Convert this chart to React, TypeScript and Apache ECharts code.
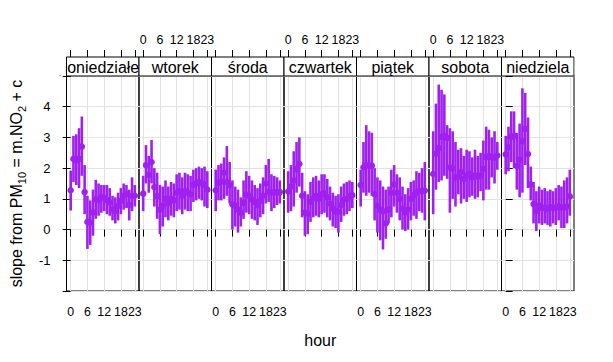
import React, { useEffect, useRef } from "react";
import * as echarts from "echarts";

const days = ["poniedziałek", "wtorek", "środa", "czwartek", "piątek", "sobota", "niedziela"];
const hours = [0, 1, 2, 3, 4, 5, 6, 7, 8, 9, 10, 11, 12, 13, 14, 15, 16, 17, 18, 19, 20, 21, 22, 23];
const xTicks = [0, 6, 12, 18, 23];
const yTicks = [-2, -1, 0, 1, 2, 3, 4, 5];
const yLabels = [-1, 0, 1, 2, 3, 4];

const slopeMon = [1.28, 2.3, 2.25, 2.3, 2.7, 1.22, 0.25, 0.23, 0.56, 0.99, 0.96, 1.05, 1.03, 0.96, 0.88, 0.66, 0.61, 0.77, 0.94, 1.1, 1.16, 0.81, 1.1, 1.1];
const lowerMon = [0.62, 1.55, 1.45, 1.35, 1.75, 0.5, -0.63, -0.5, -0.2, 0.35, 0.45, 0.55, 0.6, 0.5, 0.45, 0.3, 0.2, 0.3, 0.5, 0.65, 0.7, 0.3, 0.6, 0.75];
const upperMon = [1.92, 3.05, 3.1, 3.3, 3.68, 2.1, 1.1, 0.95, 1.3, 1.62, 1.5, 1.45, 1.45, 1.45, 1.35, 1.1, 1.05, 1.2, 1.35, 1.5, 1.45, 1.3, 1.7, 1.45];

const slopeTue = [1.17, 2.1, 1.78, 2.2, 1.38, 1.09, 0.65, 0.78, 1.0, 0.85, 1.0, 0.95, 1.2, 1.25, 1.1, 1.25, 1.2, 1.15, 1.45, 1.5, 1.55, 1.5, 1.45, 1.3];
const lowerTue = [0.6, 1.5, 1.2, 1.5, 0.75, 0.35, -0.15, 0.1, 0.4, 0.3, 0.45, 0.4, 0.6, 0.65, 0.5, 0.65, 0.6, 0.6, 0.9, 0.95, 1.0, 0.95, 0.75, 0.7];
const upperTue = [1.75, 2.75, 2.4, 2.92, 2.0, 1.85, 1.45, 1.4, 1.6, 1.4, 1.55, 1.5, 1.8, 1.85, 1.7, 1.85, 1.8, 1.75, 1.95, 2.0, 2.05, 2.0, 2.05, 1.9];

const slopeWed = [1.28, 1.52, 1.56, 1.85, 1.55, 1.45, 0.82, 0.78, 0.65, 0.55, 0.87, 1.14, 1.1, 0.98, 0.9, 0.8, 0.93, 1.1, 1.5, 1.22, 1.2, 1.22, 1.2, 1.22];
const lowerWed = [0.6, 0.95, 0.95, 1.0, 1.1, 0.85, 0.0, 0.1, -0.1, 0.1, 0.35, 0.55, 0.5, 0.35, 0.3, 0.15, 0.4, 0.5, 0.85, 0.9, 0.6, 0.7, 0.8, 0.85];
const upperWed = [1.95, 2.1, 2.15, 2.35, 2.72, 2.2, 1.6, 1.4, 1.3, 1.05, 1.6, 1.9, 1.75, 1.6, 1.45, 1.35, 1.5, 1.7, 2.1, 2.3, 1.8, 1.75, 1.7, 1.6];

const slopeThu = [1.24, 1.4, 1.6, 1.97, 2.14, 1.1, 0.55, 0.52, 0.9, 1.02, 1.1, 1.0, 1.15, 1.18, 1.05, 0.85, 0.68, 0.6, 0.58, 0.8, 0.98, 1.0, 1.08, 1.12];
const lowerThu = [0.55, 0.6, 0.75, 1.2, 1.4, 0.4, -0.2, -0.15, 0.25, 0.4, 0.45, 0.4, 0.5, 0.55, 0.4, 0.3, 0.1, 0.05, -0.1, 0.25, 0.45, 0.5, 0.6, 0.7];
const upperThu = [1.9, 2.1, 2.55, 2.85, 3.0, 1.85, 1.25, 1.15, 1.55, 1.7, 1.75, 1.6, 1.8, 1.8, 1.65, 1.4, 1.2, 1.1, 1.15, 1.4, 1.5, 1.55, 1.6, 1.55];

const slopeFri = [1.45, 2.03, 2.1, 2.08, 2.08, 1.15, 0.78, 0.65, 0.6, 0.2, 0.65, 1.2, 1.47, 1.2, 1.0, 0.67, 0.56, 0.65, 1.0, 1.12, 1.2, 1.25, 1.25, 1.27];
const lowerFri = [0.75, 1.2, 1.1, 1.2, 1.1, 0.3, -0.1, -0.35, -0.65, -0.3, 0.2, 0.4, 0.75, 0.55, 0.3, 0.0, -0.05, 0.0, 0.3, 0.45, 0.35, 0.6, 0.55, 0.3];
const upperFri = [1.95, 2.85, 3.4, 3.2, 3.15, 2.0, 1.7, 1.6, 1.4, 1.3, 1.4, 1.95, 2.1, 1.8, 1.7, 1.4, 1.15, 1.35, 1.55, 1.6, 1.9, 1.85, 2.0, 2.2];

const slopeSat = [1.81, 2.47, 2.65, 3.02, 3.05, 2.98, 2.03, 1.98, 1.7, 1.72, 1.87, 1.65, 1.76, 1.81, 1.7, 1.76, 1.72, 1.76, 1.98, 2.36, 2.39, 2.36, 2.33, 2.41];
const lowerSat = [0.5, 1.3, 1.55, 1.6, 1.75, 1.65, 0.55, 1.0, 0.75, 1.15, 0.85, 1.0, 0.9, 1.05, 1.1, 1.0, 1.05, 1.25, 0.95, 1.3, 1.3, 1.7, 1.5, 1.95];
const upperSat = [3.2, 4.1, 4.72, 4.55, 4.4, 3.4, 3.3, 3.2, 2.85, 2.6, 2.65, 2.4, 2.6, 2.55, 2.35, 2.6, 2.4, 2.5, 2.9, 3.35, 3.25, 3.0, 3.2, 2.85];

const slopeSun = [2.45, 2.68, 3.02, 3.05, 2.07, 2.27, 2.87, 3.28, 2.46, 1.47, 0.83, 0.6, 0.78, 0.7, 0.72, 0.68, 0.73, 0.7, 0.72, 0.75, 0.72, 0.72, 0.75, 1.08];
const lowerSun = [1.8, 1.9, 2.2, 2.0, 1.3, 1.05, 1.2, 2.1, 1.35, 0.95, 0.2, -0.05, 0.2, 0.15, 0.2, 0.15, 0.1, 0.2, 0.15, 0.3, 0.05, 0.05, 0.2, 0.45];
const upperSun = [3.05, 3.35, 3.85, 3.85, 3.15, 3.45, 4.6, 4.45, 3.65, 2.05, 1.55, 1.25, 1.4, 1.3, 1.35, 1.25, 1.3, 1.25, 1.35, 1.45, 1.4, 1.6, 1.7, 1.95];

const slopes = [slopeMon, slopeTue, slopeWed, slopeThu, slopeFri, slopeSat, slopeSun];
const lowers = [lowerMon, lowerTue, lowerWed, lowerThu, lowerFri, lowerSat, lowerSun];
const uppers = [upperMon, upperTue, upperWed, upperThu, upperFri, upperSat, upperSun];

const FONT = "'Liberation Sans', Arial, sans-serif";
const COLOR = "#a020f0";
const GRIDLINE = "#e2e2e2";
const PL = 66.5;
const PW = 72.5;
const PT = 76;
const PH = 215;
const STRIP_TOP = 57;

export default function App() {
  const ref = useRef<HTMLDivElement>(null);
  useEffect(() => {
    if (!ref.current) return;
    const chart = echarts.init(ref.current, undefined, { renderer: "svg" });
    const grid: any[] = [];
    const xAxis: any[] = [];
    const yAxis: any[] = [];
    const series: any[] = [];
    const graphic: any[] = [];

    const xLabelBase = {
      customValues: xTicks, fontSize: 12.4, color: "#000", fontFamily: FONT,
      hideOverlap: false,
    };

    days.forEach((day, k) => {
      const left = PL + k * PW;
      grid.push({ left, top: PT, width: PW, height: PH, show: true, borderColor: "#000", borderWidth: 1, backgroundColor: "transparent" });
      xAxis.push({
        type: "value", gridIndex: k, min: -1.5, max: 24.5, position: "bottom",
        axisLine: { show: false },
        axisTick: { show: true, customValues: xTicks, length: 7, lineStyle: { color: "#000" } },
        axisLabel: { ...xLabelBase, show: k % 2 === 0, margin: 15 },
        splitLine: { show: true, lineStyle: { color: GRIDLINE, width: 1 } },
      });
      xAxis.push({
        type: "value", gridIndex: k, min: -1.5, max: 24.5, position: "top", offset: PT - STRIP_TOP,
        axisLine: { show: false },
        axisTick: { show: true, customValues: xTicks, length: 7, lineStyle: { color: "#000" } },
        axisLabel: { ...xLabelBase, show: k % 2 === 1, margin: 11 },
        splitLine: { show: false },
      });
      yAxis.push({
        type: "value", gridIndex: k, min: -2, max: 5, position: k === 6 ? "right" : "left",
        axisLine: { show: false },
        axisTick: { show: k === 0 || k === 6, customValues: yTicks, length: k === 0 ? 8 : 7, lineStyle: { color: "#000" } },
        axisLabel: { show: k === 0, customValues: yLabels, margin: 16, fontSize: 13, color: "#000", fontFamily: FONT },
        splitLine: { show: true, lineStyle: { color: GRIDLINE, width: 1 } },
      });
      const lo = lowers[k];
      const hi = uppers[k];
      const sl = slopes[k];
      series.push({
        type: "custom", xAxisIndex: 2 * k, yAxisIndex: k, z: 3,
        data: hours.map((h, i) => [h, lo[i], hi[i]]),
        encode: { x: 0, y: [1, 2] },
        renderItem: (params: any, api: any) => {
          const p1 = api.coord([api.value(0), api.value(1)]);
          const p2 = api.coord([api.value(0), api.value(2)]);
          return { type: "line", shape: { x1: p1[0], y1: p1[1], x2: p2[0], y2: p2[1] }, style: { stroke: COLOR, lineWidth: 2.6 } };
        },
      });
      series.push({
        type: "scatter", xAxisIndex: 2 * k, yAxisIndex: k, z: 4,
        data: hours.map((h, i) => [h, sl[i]]),
        symbol: "circle", symbolSize: 6.5,
        itemStyle: { color: COLOR, opacity: 1 },
      });
      graphic.push({
        type: "rect", z: 10 + 2 * k,
        shape: { x: left, y: STRIP_TOP, width: PW, height: PT - STRIP_TOP },
        style: { fill: "#fff", stroke: "#000", lineWidth: 1 },
      });
      graphic.push({
        type: "text", z: 11 + 2 * k, x: left + PW / 2, y: (STRIP_TOP + PT) / 2 + 0.5,
        style: { text: day, fontSize: 16, fontFamily: FONT, fill: "#000", align: "center", verticalAlign: "middle" },
      });
    });

    graphic.push({ type: "rect", z: 60, shape: { x: 0, y: STRIP_TOP - 1, width: PL - 0.6, height: PT - STRIP_TOP + 0.5 }, style: { fill: "#fff" } });
    graphic.push({ type: "rect", z: 60, shape: { x: PL + 7 * PW + 0.6, y: STRIP_TOP - 1, width: 60, height: PT - STRIP_TOP + 0.5 }, style: { fill: "#fff" } });
    graphic.push({
      type: "text", z: 61, x: PL + (7 * PW) / 2, y: 340,
      style: { text: "hour", fontSize: 16, fontFamily: FONT, fill: "#000", align: "center", verticalAlign: "middle" },
    });
    graphic.push({
      type: "text", z: 61, x: 16, y: PT + PH / 2, rotation: Math.PI / 2,
      style: {
        text: "{a|slope from PM}{s|10}{a| = m.NO}{s|2}{a| + c}",
        align: "center", verticalAlign: "middle",
        rich: {
          a: { fontSize: 16, fontFamily: FONT, fill: "#000", lineHeight: 22, verticalAlign: "middle" },
          s: { fontSize: 11, fontFamily: FONT, fill: "#000", lineHeight: 12, verticalAlign: "bottom" },
        },
      },
    });

    chart.setOption({
      animation: false,
      backgroundColor: "#fff",
      grid, xAxis, yAxis, series, graphic,
    });
    return () => chart.dispose();
  }, []);
  return <div ref={ref} style={{ position: "absolute", left: 0, top: 0, width: 613, height: 362 }} />;
}
